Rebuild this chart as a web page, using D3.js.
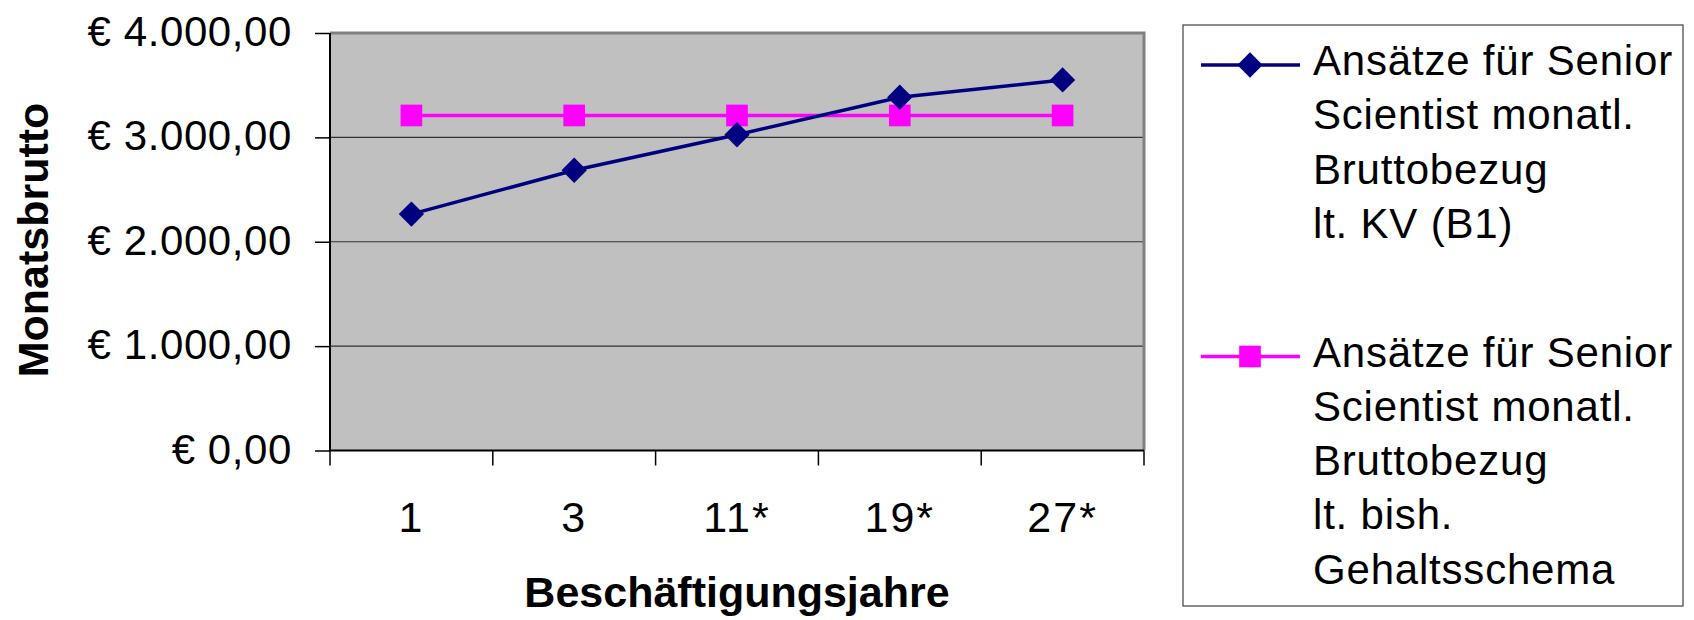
<!DOCTYPE html>
<html>
<head>
<meta charset="utf-8">
<title>Monatsbrutto nach Beschäftigungsjahren</title>
<script src="https://d3js.org/d3.v7.min.js"></script>
<style>
  body { margin: 0; background: #fff; }
  svg text { font-family: "Liberation Sans", Arial, sans-serif; fill: #000; }
</style>
</head>
<body>
<div id="chart"></div>
<script>
  // Beschäftigungsjahre (categories on the x axis)
  const categories = ["1", "3", "11*", "19*", "27*"];

  // Monatsbrutto values
  const kvB1 = [2265, 2685, 3025, 3385, 3550];
  const bisherSchema = [3210, 3210, 3210, 3210, 3210];

  const yTicks = [0, 1000, 2000, 3000, 4000];

  const legendLabels = [
    ["Ansätze für Senior", "Scientist monatl.", "Bruttobezug", "lt. KV (B1)"],
    ["Ansätze für Senior", "Scientist monatl.", "Bruttobezug", "lt. bish.", "Gehaltsschema"]
  ];

  const width = 1694, height = 620;
  const plot = { left: 330, right: 1144, top: 33, bottom: 450.5 };

  const svg = d3.select("#chart").append("svg")
    .attr("width", width)
    .attr("height", height);

  const x = d3.scaleBand()
    .domain(categories)
    .range([plot.left, plot.right])
    .padding(0);

  const y = d3.scaleLinear()
    .domain([0, 4000])
    .range([plot.bottom, plot.top]);

  const euro = d3.formatLocale({
    decimal: ",", thousands: ".", grouping: [3], currency: ["€ ", ""]
  }).format("$,.2f");

  // plot background
  svg.append("rect")
    .attr("x", plot.left).attr("y", plot.top)
    .attr("width", plot.right - plot.left)
    .attr("height", plot.bottom - plot.top)
    .attr("fill", "#c0c0c0");

  // gridlines
  svg.append("g")
    .selectAll("line")
    .data(yTicks.filter(d => d > 0 && d < 4000))
    .join("line")
    .attr("x1", plot.left).attr("x2", plot.right)
    .attr("y1", d => y(d)).attr("y2", d => y(d))
    .attr("stroke", "#333").attr("stroke-width", 1.2);

  // grey border top and right
  svg.append("path")
    .attr("d", `M${plot.left},${plot.top}H${plot.right}V${plot.bottom}`)
    .attr("fill", "none")
    .attr("stroke", "#808080")
    .attr("stroke-width", 3);

  // y axis
  const yAxis = svg.append("g")
    .attr("transform", `translate(${plot.left},0)`)
    .call(d3.axisLeft(y).tickValues(yTicks).tickSize(15).tickPadding(23).tickFormat(euro));
  yAxis.select(".domain").remove();
  yAxis.selectAll("line").attr("stroke", "#000").attr("stroke-width", 1.5);
  yAxis.selectAll("text")
    .style("font-size", "42px")
    .style("letter-spacing", "0.6px")
    .attr("dy", "0.3em");

  // x axis labels
  const xAxis = svg.append("g")
    .attr("transform", `translate(0,${plot.bottom})`)
    .call(d3.axisBottom(x).tickSize(0).tickPadding(51));
  xAxis.select(".domain").remove();
  xAxis.selectAll("text")
    .style("font-size", "43px")
    .style("letter-spacing", "2px");

  // x ticks between categories
  const bounds = categories.map(c => x(c)).concat([x.range()[1]]);
  svg.append("g")
    .selectAll("line")
    .data(bounds)
    .join("line")
    .attr("x1", d => d).attr("x2", d => d)
    .attr("y1", plot.bottom).attr("y2", plot.bottom + 15)
    .attr("stroke", "#000").attr("stroke-width", 1.5);

  // axis lines
  svg.append("path")
    .attr("d", `M${plot.left},${plot.top}V${plot.bottom}H${plot.right}`)
    .attr("fill", "none")
    .attr("stroke", "#000")
    .attr("stroke-width", 2);

  // series
  const cx = i => x(categories[i]) + x.bandwidth() / 2;
  const line = d3.line().x((d, i) => cx(i)).y(d => y(d));

  const series = [
    { values: kvB1, color: "#000080", symbol: d3.symbolSquare, size: 320, rotate: 45 },
    { values: bisherSchema, color: "#ff00ff", symbol: d3.symbolSquare, size: 470, rotate: 0 }
  ];

  // pink first so the blue line is drawn over it where they cross
  [series[1], series[0]].forEach(s => {
    svg.append("path")
      .datum(s.values)
      .attr("d", line)
      .attr("fill", "none")
      .attr("stroke", s.color)
      .attr("stroke-width", 3.5);
    svg.append("g")
      .selectAll("path")
      .data(s.values)
      .join("path")
      .attr("d", d3.symbol(s.symbol, s.size))
      .attr("transform", (d, i) => `translate(${cx(i)},${y(d)}) rotate(${s.rotate})`)
      .attr("fill", s.color);
  });

  // axis titles
  svg.append("text")
    .attr("transform", "translate(48,240) rotate(-90)")
    .attr("text-anchor", "middle")
    .style("font-size", "43px")
    .style("font-weight", "bold")
    .text("Monatsbrutto");

  svg.append("text")
    .attr("x", (plot.left + plot.right) / 2)
    .attr("y", 607)
    .attr("text-anchor", "middle")
    .style("font-size", "43px")
    .style("font-weight", "bold")
    .text("Beschäftigungsjahre");

  // legend
  const legend = svg.append("g");
  legend.append("rect")
    .attr("x", 1183).attr("y", 25)
    .attr("width", 500).attr("height", 581)
    .attr("fill", "#fff")
    .attr("stroke", "#404040")
    .attr("stroke-width", 1.2);

  const entryBaseline = [75, 366.5];
  const lineGap = 54.3;

  series.forEach((s, k) => {
    const g = legend.append("g");
    const ly = entryBaseline[k] - 10;
    g.append("line")
      .attr("x1", 1201).attr("x2", 1300)
      .attr("y1", ly).attr("y2", ly)
      .attr("stroke", s.color)
      .attr("stroke-width", 3.5);
    g.append("path")
      .attr("d", d3.symbol(s.symbol, s.size))
      .attr("transform", `translate(1250,${ly}) rotate(${s.rotate})`)
      .attr("fill", s.color);
    g.selectAll("text")
      .data(legendLabels[k])
      .join("text")
      .attr("x", 1313)
      .attr("y", (d, i) => entryBaseline[k] + i * lineGap)
      .style("font-size", "42px")
      .style("letter-spacing", "0.8px")
      .text(d => d);
  });
</script>
</body>
</html>
